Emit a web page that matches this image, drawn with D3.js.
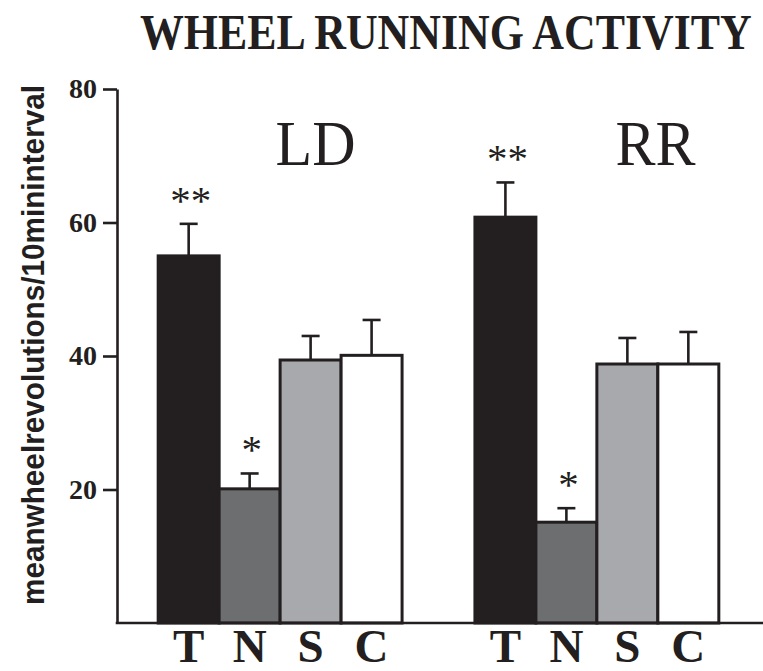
<!DOCTYPE html>
<html>
<head>
<meta charset="utf-8">
<script src="https://cdn.jsdelivr.net/npm/d3@7"></script>
<style>
  html, body { margin: 0; padding: 0; background: #fff; }
  svg { display: block; }
</style>
</head>
<body>
<svg id="chart" width="763" height="671"></svg>
<script>
// Wheel running activity: mean wheel revolutions per 10-min interval,
// four treatment groups under LD and RR conditions, mean + SEM.
const conditions = ["LD", "RR"];
const treatments = ["T", "N", "S", "C"];
const meansLD = [55.0, 20.1, 39.4, 40.1];
const semLD   = [4.8, 2.3, 3.6, 5.3];
const meansRR = [60.8, 15.1, 38.8, 38.8];
const semRR   = [5.2, 2.1, 3.9, 4.8];
const sigLD = ["**", "*", "", ""];
const sigRR = ["**", "*", "", ""];
const yTicks = [20, 40, 60, 80];

const fills = ["#231f20", "#6d6e70", "#a7a9ac", "#ffffff"];
const conditionLabelAt = [0.645, 0.74];   // label anchor within each group band

const series = [
  { cond: conditions[0], means: meansLD, sem: semLD, sig: sigLD },
  { cond: conditions[1], means: meansRR, sem: semRR, sig: sigRR }
];

const svg = d3.select("#chart");
const serif = "'Liberation Serif', 'Times New Roman', serif";
const sans = "'Liberation Sans', Arial, sans-serif";

const plot = { left: 117, right: 760, top: 89, bottom: 623 };

const y = d3.scaleLinear().domain([0, 80]).range([plot.bottom, plot.top]);
const xGroup = d3.scaleBand()
  .domain(conditions)
  .range([plot.left, plot.right])
  .paddingInner(0.23)
  .paddingOuter(0.13);
const xInner = d3.scaleBand()
  .domain(treatments)
  .range([0, xGroup.bandwidth()])
  .padding(0);

// Title: condensed horizontally to a fixed width
const titleG = svg.append("g");
const title = titleG.append("text")
  .style("font-family", serif).style("font-weight", "bold").style("font-size", "50px")
  .attr("fill", "#231f20")
  .text("WHEEL RUNNING ACTIVITY");
const titleW = title.node().getComputedTextLength();
titleG.attr("transform", `translate(140,49) scale(${612 / titleW},1)`);

// Y axis title
svg.append("text")
  .attr("transform", "translate(44,345) rotate(-90)")
  .attr("text-anchor", "middle")
  .attr("textLength", 520).attr("lengthAdjust", "spacingAndGlyphs")
  .style("font-family", sans).style("font-weight", "bold").style("font-size", "31px")
  .attr("fill", "#231f20")
  .text("meanwheelrevolutions/10mininterval");

// Groups of bars
const g = svg.selectAll("g.cond")
  .data(series)
  .join("g")
  .attr("class", "cond")
  .attr("transform", d => `translate(${xGroup(d.cond)},0)`);

const rows = d => d.means.map((m, i) => ({ t: treatments[i], m, e: d.sem[i], s: d.sig[i], i }));

// error bars (drawn first so the bar outline sits on top of the stem base)
const eb = g.selectAll("g.err").data(rows).join("g").attr("class", "err");
eb.append("line")
  .attr("x1", d => xInner(d.t) + xInner.bandwidth() / 2)
  .attr("x2", d => xInner(d.t) + xInner.bandwidth() / 2)
  .attr("y1", d => y(d.m)).attr("y2", d => y(d.m + d.e))
  .attr("stroke", "#231f20").attr("stroke-width", 2.6);
eb.append("line")
  .attr("x1", d => xInner(d.t) + xInner.bandwidth() / 2 - 9)
  .attr("x2", d => xInner(d.t) + xInner.bandwidth() / 2 + 9)
  .attr("y1", d => y(d.m + d.e)).attr("y2", d => y(d.m + d.e))
  .attr("stroke", "#231f20").attr("stroke-width", 2.6);

g.selectAll("rect.bar").data(rows).join("rect")
  .attr("class", "bar")
  .attr("x", d => xInner(d.t))
  .attr("width", xInner.bandwidth())
  .attr("y", d => y(d.m))
  .attr("height", d => y(0) - y(d.m))
  .attr("fill", d => fills[d.i])
  .attr("stroke", "#231f20").attr("stroke-width", 3);

// significance asterisks
g.selectAll("text.sig").data(d => rows(d).filter(r => r.s)).join("text")
  .attr("class", "sig")
  .attr("x", d => xInner(d.t) + xInner.bandwidth() / 2 + 2)
  .attr("y", d => y(d.m + d.e) - 10)
  .attr("text-anchor", "middle")
  .style("font-family", serif).style("font-size", "41px")
  .attr("fill", "#231f20")
  .text(d => d.s);

// condition labels
g.append("text")
  .attr("x", (d, i) => xGroup.bandwidth() * conditionLabelAt[i])
  .attr("y", 165)
  .attr("text-anchor", "middle")
  .attr("textLength", 80).attr("lengthAdjust", "spacingAndGlyphs")
  .style("font-family", serif).style("font-size", "63px")
  .attr("fill", "#231f20")
  .text(d => d.cond);

// treatment labels under each group
g.append("g")
  .attr("transform", `translate(0,${plot.bottom})`)
  .call(d3.axisBottom(xInner).tickSize(0).tickPadding(6))
  .call(a => a.select(".domain").remove())
  .selectAll("text")
  .style("font-family", serif).style("font-weight", "bold").style("font-size", "47px")
  .attr("fill", "#231f20");

// Y axis
const yAxis = svg.append("g")
  .attr("transform", `translate(${plot.left},0)`)
  .call(d3.axisLeft(y).tickValues(yTicks).tickSize(14).tickSizeOuter(0).tickPadding(6));
yAxis.select(".domain").attr("stroke", "#231f20").attr("stroke-width", 2.6);
yAxis.selectAll(".tick line").attr("stroke", "#231f20").attr("stroke-width", 2.6);
yAxis.selectAll(".tick text")
  .style("font-family", serif).style("font-weight", "bold").style("font-size", "28px")
  .attr("fill", "#231f20");

// baseline
svg.append("line")
  .attr("x1", plot.left - 1.3).attr("x2", 763)
  .attr("y1", y(0)).attr("y2", y(0))
  .attr("stroke", "#231f20").attr("stroke-width", 2.6);
</script>
</body>
</html>
